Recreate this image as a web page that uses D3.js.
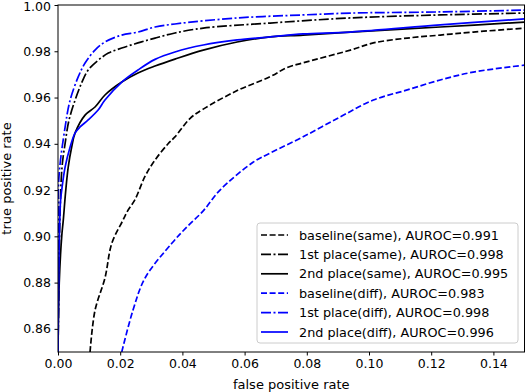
<!DOCTYPE html>
<html><head><meta charset="utf-8">
<script src="https://cdn.jsdelivr.net/npm/d3@7"></script>
<style>body{margin:0;background:#fff}svg{display:block}text{font-family:"DejaVu Sans",sans-serif}</style>
</head><body>
<svg id="c" width="526" height="392"></svg>
<script>
const xTicks = [0.00,0.02,0.04,0.06,0.08,0.10,0.12,0.14];
const yTicks = [0.86,0.88,0.90,0.92,0.94,0.96,0.98,1.00];
const seriesNames = ["baseline(same), AUROC=0.991","1st place(same), AUROC=0.998","2nd place(same), AUROC=0.995","baseline(diff), AUROC=0.983","1st place(diff), AUROC=0.998","2nd place(diff), AUROC=0.996"];

const baselineSameFpr = [0.0103,0.0119,0.0151,0.0173,0.0209,0.0224,0.0248,0.0280,0.0312,0.0354,0.0376,0.0425,0.0467,0.0576,0.0682,0.0737,0.0788,0.0940,0.1014,0.1123,0.1229,0.1335,0.1500];
const baselineSameTpr = [0.850,0.868,0.882,0.897,0.907,0.911,0.916,0.926,0.933,0.940,0.943,0.951,0.955,0.963,0.969,0.973,0.975,0.9805,0.9836,0.9857,0.987,0.9883,0.990];

const firstSameFpr = [0,0.0003,0.0006,0.0013,0.0023,0.0035,0.0055,0.0076,0.0097,0.0130,0.0162,0.0205,0.0257,0.0312,0.0376,0.0467,0.0682,0.0940,0.1229,0.1500];
const firstSameTpr = [0.850,0.880,0.907,0.930,0.9403,0.950,0.9589,0.9663,0.9719,0.9762,0.9792,0.9814,0.9836,0.9857,0.9879,0.990,0.9922,0.9944,0.9957,0.9965];

const secondSameFpr = [0,0.0004,0.0012,0.0017,0.0025,0.0033,0.0044,0.0055,0.0087,0.0119,0.0151,0.0205,0.0257,0.0312,0.0376,0.0467,0.0576,0.0682,0.0788,0.0940,0.1229,0.1500];
const secondSameTpr = [0.850,0.880,0.900,0.907,0.920,0.930,0.9386,0.9447,0.9524,0.9559,0.9611,0.9667,0.9706,0.9736,0.9766,0.9805,0.984,0.9862,0.987,0.9883,0.9905,0.9926];

const baselineDiffFpr = [0.0205,0.0241,0.0280,0.0366,0.0414,0.0467,0.0521,0.0627,0.0682,0.0788,0.0907,0.1014,0.1123,0.1229,0.1335,0.1500];
const baselineDiffTpr = [0.850,0.868,0.882,0.897,0.904,0.911,0.920,0.932,0.936,0.943,0.9516,0.9589,0.9633,0.9676,0.971,0.974];

const firstDiffFpr = [0,0.0002,0.0003,0.0023,0.0039,0.0065,0.0087,0.0119,0.0151,0.0205,0.0257,0.0312,0.0376,0.0576,0.0788,0.0940,0.1229,0.1500];
const firstDiffTpr = [0.850,0.900,0.9256,0.9473,0.9589,0.9689,0.9749,0.9805,0.984,0.987,0.9883,0.9905,0.9918,0.9944,0.9957,0.9965,0.997,0.9978];

const secondDiffFpr = [0,0.0003,0.0008,0.0012,0.0023,0.0039,0.0055,0.0071,0.0097,0.0129,0.0151,0.0205,0.0257,0.0312,0.0376,0.0467,0.0576,0.0682,0.0788,0.0940,0.1229,0.1500];
const secondDiffTpr = [0.850,0.890,0.915,0.920,0.930,0.9386,0.9447,0.9473,0.9503,0.9546,0.9589,0.9667,0.9719,0.9765,0.9797,0.9827,0.9849,0.9862,0.9875,0.9883,0.9914,0.994];

const fprs = [baselineSameFpr, firstSameFpr, secondSameFpr, baselineDiffFpr, firstDiffFpr, secondDiffFpr];
const tprs = [baselineSameTpr, firstSameTpr, secondSameTpr, baselineDiffTpr, firstDiffTpr, secondDiffTpr];
const colors = ["#000000","#000000","#000000","#0000ff","#0000ff","#0000ff"];
const dashes = ["6,2.6","10,2.5,2,2.5",null,"6,2.6","10,2.5,2,2.5",null];

const L=58, R=524.5, T=5, B=352;
const svg = d3.select("#c");
const x = d3.scaleLinear().domain([0,0.15]).range([L,R]);
const y = d3.scaleLinear().domain([0.85,1.0]).range([B,T]);

svg.append("defs").append("clipPath").attr("id","clip").append("rect")
  .attr("x",L).attr("y",T).attr("width",R-L).attr("height",B-T);

const line = d3.line().x(d=>x(d[0])).y(d=>y(d[1])).curve(d3.curveCatmullRom.alpha(0.5));
const g = svg.append("g").attr("clip-path","url(#clip)");
fprs.forEach((f,i)=>{
  const pts = f.map((v,j)=>[v,tprs[i][j]]);
  g.append("path").attr("d",line(pts)).attr("fill","none")
    .attr("stroke",colors[i]).attr("stroke-width",1.7)
    .attr("stroke-dasharray",dashes[i]).attr("stroke-linejoin","round");
});

const xa = svg.append("g").attr("transform",`translate(0,${B})`)
  .call(d3.axisBottom(x).tickValues(xTicks).tickFormat(d3.format(".2f")).tickSize(3.5).tickPadding(3.5));
const ya = svg.append("g").attr("transform",`translate(${L},0)`)
  .call(d3.axisLeft(y).tickValues(yTicks).tickFormat(d3.format(".2f")).tickSize(3.5).tickPadding(3.5));
[xa,ya].forEach(a=>{a.select(".domain").remove();a.selectAll("text").attr("font-size",12.5).attr("fill","#000").style("font-family","DejaVu Sans");a.selectAll("line").attr("stroke","#000");});
ya.selectAll(".tick").filter(d=>d===1.0).select("text").attr("dy","0.47em");

svg.append("rect").attr("x",L).attr("y",T).attr("width",R-L).attr("height",B-T)
  .attr("fill","none").attr("stroke","#000").attr("stroke-width",1);

svg.append("text").attr("x",(L+R)/2).attr("y",389).attr("text-anchor","middle").attr("font-size",13).text("false positive rate");
svg.append("text").attr("transform",`translate(11,${(T+B)/2}) rotate(-90)`).attr("text-anchor","middle").attr("font-size",13).text("true positive rate");

const lg = svg.append("g");
lg.append("rect").attr("x",257).attr("y",223).attr("width",261).attr("height",120).attr("rx",3)
  .attr("fill","#fff").attr("fill-opacity",0.8).attr("stroke","#cccccc").attr("stroke-width",1);
seriesNames.forEach((n,i)=>{
  const yy = 235 + i*19.4;
  lg.append("line").attr("x1",261).attr("x2",288).attr("y1",yy).attr("y2",yy)
    .attr("stroke",colors[i]).attr("stroke-width",1.7).attr("stroke-dasharray",dashes[i]);
  lg.append("text").attr("x",299).attr("y",yy+4.5).attr("font-size",12.8).text(n);
});
</script>
</body></html>
